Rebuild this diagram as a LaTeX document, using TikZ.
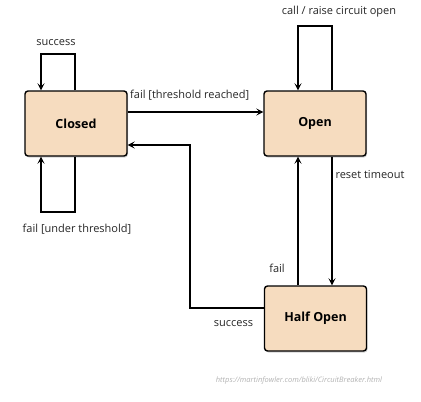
\documentclass[tikz,border=0pt]{standalone}
\usepackage{fontspec}
\setmainfont{Open Sans}
\usetikzlibrary{arrows.meta,shadows}
\begin{document}
\begin{tikzpicture}[x=1pt,y=-1pt,
  state/.style={draw=black,line width=1.4pt,rounded corners=3pt,fill=statefill,
    minimum width=102pt,minimum height=65pt,inner sep=0pt,font=\fontsize{12.5}{14}\selectfont\bfseries,
    drop shadow={shadow xshift=1pt,shadow yshift=-1.5pt,opacity=0.35}},
  conn/.style={line width=1.2pt,-{Stealth[length=7pt,width=7pt,inset=3pt]}},
  lbl/.style={font=\fontsize{11}{13}\selectfont,text=black!85,inner sep=0pt}]
\definecolor{statefill}{HTML}{F6DCBF}
\useasboundingbox (0,0) rectangle (421,402);
\node[state] (closed) at (76,123.5) {Closed};
\node[state] (open) at (315,123.5) {Open};
\node[state] (half) at (315.5,318.5) {Half Open};
% closed success loop
\coordinate (cs1) at (75,54);
\coordinate (cs2) at (41,54);
\draw[conn] (closed.north -| cs1) -- (cs1) -- (cs2) -- (closed.north -| cs2);
\node[lbl] (lsucc) at (56,43) {success};
% closed fail loop
\coordinate (cf1) at (75,212);
\coordinate (cf2) at (41,212);
\draw[conn] (closed.south -| cf1) -- (cf1) -- (cf2) -- (closed.south -| cf2);
\node[lbl] (lfailu) at (77,229) {fail [under threshold]};
% threshold reached
\coordinate (tr) at (0,112);
\draw[conn] (closed.east |- tr) -- (open.west |- tr);
\node[lbl,anchor=west] (lfailt) at (130,95.5) {fail [threshold reached]};
% open loop
\coordinate (o1) at (332,26);
\coordinate (o2) at (298,26);
\draw[conn] (open.north -| o1) -- (o1) -- (o2) -- (open.north -| o2);
\node[lbl] (lcall) at (339,12) {call / raise circuit open};
% reset timeout
\coordinate (rt) at (332,0);
\draw[conn] (open.south -| rt) -- (half.north -| rt);
\node[lbl] (lreset) at (370,175) {reset timeout};
% fail from half open
\coordinate (hf) at (298,0);
\draw[conn] (half.north -| hf) -- (open.south -| hf);
\node[lbl] (lfail) at (277,268.5) {fail};
% success back to closed
\coordinate (sb1) at (190,308);
\coordinate (sb2) at (190,145);
\draw[conn] (half.west |- sb1) -- (sb1) -- (sb2) -- (closed.east |- sb2);
\node[lbl] (lsucc2) at (233.5,323.5) {success};
% url
\node[font=\fontsize{7.5}{9}\selectfont\itshape,text=black!30,inner sep=0pt] (url) at (299,381) {https://martinfowler.com/bliki/CircuitBreaker.html};
\end{tikzpicture}
\end{document}
